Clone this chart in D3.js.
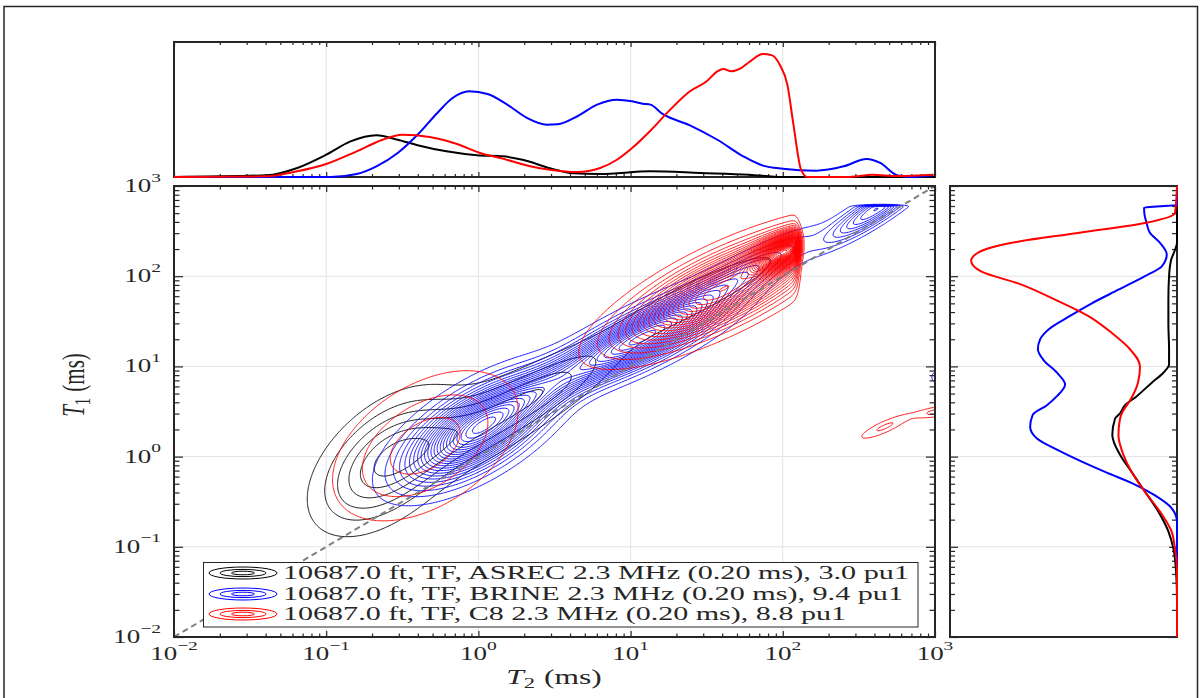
<!DOCTYPE html>
<html>
<head>
<meta charset="utf-8">
<script src="https://cdn.jsdelivr.net/npm/d3@7"></script>
<style>
  body { margin: 0; background: #fff; }
  svg text { font-family: "Liberation Serif", "Times New Roman", serif; fill: #262626; }
</style>
</head>
<body>
<svg id="fig" width="1204" height="698"></svg>
<script>
const seriesNames = [
  "10687.0 ft, TF, ASREC 2.3 MHz (0.20 ms), 3.0 pu1",
  "10687.0 ft, TF, BRINE 2.3 MHz (0.20 ms), 9.4 pu1",
  "10687.0 ft, TF, C8 2.3 MHz (0.20 ms), 8.8 pu1"
];
const seriesColors = ["#000000", "#0000ff", "#ff0000"];
const tickExps = [-2, -1, 0, 1, 2, 3];

// T2 projection (top panel): [log10 T2, amplitude]
const topAsrec = [[-2.0,0],[-1.39,0.013],[-1.19,0.067],[-1.0,0.165],[-0.84,0.264],[-0.67,0.309],[-0.53,0.276],[-0.4,0.235],[-0.21,0.19],[-0.01,0.161],[0.16,0.153],[0.29,0.128],[0.47,0.065],[0.52,0.05],[0.6,0.03],[0.8,0.022],[1.13,0.042],[1.46,0.03],[1.78,0.017],[2.0,0],[3.0,0]];
const topBrine = [[-2.0,0],[-0.97,0],[-0.8,0.022],[-0.67,0.079],[-0.53,0.178],[-0.4,0.313],[-0.27,0.474],[-0.17,0.585],[-0.06,0.635],[0.06,0.615],[0.19,0.536],[0.32,0.437],[0.45,0.387],[0.52,0.39],[0.65,0.45],[0.78,0.536],[0.91,0.573],[1.01,0.561],[1.08,0.543],[1.13,0.536],[1.21,0.467],[1.39,0.383],[1.57,0.276],[1.74,0.153],[1.87,0.084],[2.0,0.061],[2.22,0.047],[2.4,0.079],[2.55,0.133],[2.64,0.104],[2.75,0.013],[2.84,0],[2.99,0.013]];
const topC8 = [[-2.0,0],[-1.39,0.005],[-1.19,0.042],[-1.0,0.096],[-0.8,0.19],[-0.63,0.276],[-0.5,0.313],[-0.32,0.296],[-0.14,0.244],[0.01,0.178],[0.16,0.136],[0.34,0.08],[0.47,0.054],[0.65,0.037],[0.8,0.067],[0.91,0.128],[1.01,0.215],[1.13,0.343],[1.26,0.499],[1.39,0.635],[1.5,0.709],[1.57,0.783],[1.61,0.8],[1.66,0.783],[1.72,0.802],[1.78,0.852],[1.87,0.911],[1.93,0.901],[1.98,0.832],[2.03,0.684],[2.07,0.388],[2.12,0.054],[2.16,0],[2.44,0],[2.59,0.017],[2.75,0.007],[2.99,0.017]];

// T1 projection (right panel): [log10 T1, amplitude]
const sideAsrec = [[-2.0,0],[-1.59,0],[-1.28,0.004],[-1.02,0.016],[-0.83,0.038],[-0.61,0.082],[-0.39,0.141],[-0.17,0.2],[0.02,0.251],[0.24,0.285],[0.42,0.273],[0.48,0.251],[0.57,0.229],[0.67,0.177],[0.82,0.111],[0.93,0.06],[1.02,0.035],[1.19,0.035],[1.48,0.038],[1.74,0.038],[2.0,0.035],[2.18,0.026],[2.29,0.009],[2.37,0],[3.0,0]];
const sideBrine = [[-2.0,0],[-0.72,0],[-0.57,0.024],[-0.43,0.097],[-0.31,0.185],[-0.17,0.317],[0.05,0.507],[0.2,0.617],[0.33,0.647],[0.46,0.636],[0.57,0.573],[0.67,0.529],[0.8,0.493],[0.93,0.529],[1.07,0.588],[1.19,0.613],[1.3,0.603],[1.41,0.566],[1.56,0.471],[1.7,0.375],[1.85,0.258],[2.0,0.141],[2.11,0.067],[2.24,0.045],[2.37,0.075],[2.48,0.119],[2.59,0.134],[2.7,0.144],[2.76,0.145],[2.79,0],[3.0,0]];
const sideC8 = [[-2.0,0],[-1.28,0],[-1.02,0.009],[-0.83,0.024],[-0.61,0.075],[-0.39,0.141],[-0.17,0.2],[0.02,0.236],[0.24,0.258],[0.42,0.251],[0.48,0.243],[0.63,0.205],[0.82,0.172],[1.0,0.163],[1.19,0.207],[1.37,0.287],[1.56,0.392],[1.74,0.537],[1.92,0.7],[2.05,0.861],[2.17,0.907],[2.26,0.877],[2.37,0.727],[2.48,0.436],[2.59,0.141],[2.7,0.009],[3.0,0]];

// T1-T2 map peaks: [log10 T2, log10 T1, sd T2, sd T1, corr, height, T2 cutoff, T1 cutoff]
const peaksAsrec = [
  [-0.60, -0.05, 0.28, 0.45, 0.50, 5.6, null, null],
  [-0.05, 0.30, 0.35, 0.35, 0.70, 3.4, null, null],
  [0.45, 0.75, 0.28, 0.28, 0.75, 2.5, null, null],
  [1.38, 1.73, 0.60, 0.53, 0.92, 1.5, null, null]
];
const peaksBrine = [
  [0.00, 0.30, 0.28, 0.34, 0.66, 22, null, null],
  [0.50, 0.82, 0.30, 0.30, 0.85, 7, null, null],
  [1.10, 1.33, 0.32, 0.30, 0.80, 20, null, null],
  [1.70, 1.98, 0.30, 0.30, 0.90, 6, null, null],
  [2.62, 2.75, 0.21, 0.24, 0.90, 9, null, 2.785],
  [3.02, 0.88, 0.03, 0.05, 0.0, 2.5, null, null]
];
const peaksC8 = [
  [-0.35, 0.12, 0.38, 0.52, 0.45, 3.6, null, null],
  [1.60, 1.85, 0.38, 0.36, 0.77, 20, 2.1, null],
  [2.02, 2.28, 0.13, 0.13, 0.60, 35, 2.1, null],
  [2.67, 0.33, 0.12, 0.10, 0.85, 2.2, null, null],
  [3.02, 0.50, 0.10, 0.05, 0.60, 2.5, null, null]
];
const contourLevels = d3.range(1, 70);

const svg = d3.select("#fig");
const ink = "#262626";
const stretch = 1.5;

const x = d3.scaleLog().domain([1e-2, 1e3]).range([174, 935]);
const y = d3.scaleLog().domain([1e-2, 1e3]).range([637, 186]);
const topY = d3.scaleLinear().domain([0, 1]).range([177, 42]);
const sideX = d3.scaleLinear().domain([0, 1]).range([1177, 950]);

const majorVals = tickExps.map(e => 10 ** e);
const minorVals = d3.range(-2, 3).flatMap(e => d3.range(2, 10).map(m => m * 10 ** e));
const gridVals = majorVals.slice(1, -1);

// outer frame
svg.append("rect").attr("x", 4).attr("y", 6.5).attr("width", 1193.5).attr("height", 720)
  .attr("fill", "none").attr("stroke", ink).attr("stroke-width", 1.5);

// grid lines
const grid = svg.append("g").attr("stroke", "#e3e3e3").attr("stroke-width", 1);
gridVals.forEach(v => {
  grid.append("line").attr("x1", x(v)).attr("x2", x(v)).attr("y1", 186).attr("y2", 637);
  grid.append("line").attr("x1", 174).attr("x2", 935).attr("y1", y(v)).attr("y2", y(v));
  grid.append("line").attr("x1", x(v)).attr("x2", x(v)).attr("y1", 42).attr("y2", 177);
  grid.append("line").attr("x1", 950).attr("x2", 1177).attr("y1", y(v)).attr("y2", y(v));
});

// contour maps
svg.append("clipPath").attr("id", "mainClip")
  .append("rect").attr("x", 174).attr("y", 186).attr("width", 761).attr("height", 451);

const step = 0.01, uMin = -2.2, uMax = 3.3, vMin = -2.2, vMax = 3.2;
const nx = Math.round((uMax - uMin) / step) + 1;
const ny = Math.round((vMax - vMin) / step) + 1;

function field(peaks) {
  const vals = new Float64Array(nx * ny);
  for (let j = 0; j < ny; j++) {
    const v = vMin + j * step;
    for (let i = 0; i < nx; i++) {
      const u = uMin + i * step;
      let s = 0;
      for (const [u0, v0, su, sv, r, h, cu, cv] of peaks) {
        const a = (u - u0) / su, b = (v - v0) / sv;
        const q = (a * a - 2 * r * a * b + b * b) / (1 - r * r);
        if (q > 60) continue;
        let g = h * Math.exp(-q / 2);
        if (cu != null) g /= 1 + Math.exp((u - cu) / 0.012);
        if (cv != null) g /= 1 + Math.exp((v - cv) / 0.005);
        s += g;
      }
      vals[j * nx + i] = s;
    }
  }
  return vals;
}

const toPlot = d3.geoTransform({
  point(gx, gy) {
    this.stream.point(x(10 ** (uMin + (gx - 0.5) * step)), y(10 ** (vMin + (gy - 0.5) * step)));
  }
});
const contourPath = d3.geoPath(toPlot);
const contourGen = d3.contours().size([nx, ny]).thresholds(contourLevels);

const mapG = svg.append("g").attr("clip-path", "url(#mainClip)");
[peaksAsrec, peaksBrine, peaksC8].forEach((peaks, k) => {
  const sets = contourGen(field(peaks)).filter(c => c.coordinates.length > 0);
  mapG.append("g")
    .attr("fill", "none")
    .attr("stroke", seriesColors[k])
    .attr("stroke-width", 0.9)
    .selectAll("path")
    .data(sets)
    .join("path")
    .attr("d", contourPath);
});

// T1 = T2 line
mapG.append("line")
  .attr("x1", x(1e-2)).attr("y1", y(1e-2)).attr("x2", x(1e3)).attr("y2", y(1e3))
  .attr("stroke", "#808080").attr("stroke-width", 2).attr("stroke-dasharray", "6,4");

// ticks
function ticks(axisFn, scale, transform, lenMajor, lenMinor) {
  [[majorVals, lenMajor], [minorVals, lenMinor]].forEach(([vals, len]) => {
    svg.append("g")
      .attr("transform", transform)
      .call(axisFn(scale).tickValues(vals).tickSize(-len).tickFormat(""))
      .call(g => g.select(".domain").remove())
      .selectAll("line").attr("stroke", ink).attr("stroke-width", 1.2);
  });
}
ticks(d3.axisBottom, x, "translate(0,637)", 6, 3.5);
ticks(d3.axisTop, x, "translate(0,186)", 6, 3.5);
ticks(d3.axisLeft, y, "translate(174,0)", 9, 5.5);
ticks(d3.axisRight, y, "translate(935,0)", 9, 5.5);
ticks(d3.axisBottom, x, "translate(0,177)", 5, 3);
ticks(d3.axisTop, x, "translate(0,42)", 5, 3);
ticks(d3.axisLeft, y, "translate(950,0)", 8, 5);
ticks(d3.axisRight, y, "translate(1177,0)", 8, 5);

// boxes
[[174, 186, 761, 451], [174, 42, 761, 135], [950, 186, 227, 451]].forEach(([bx, by, bw, bh]) => {
  svg.append("rect").attr("x", bx).attr("y", by).attr("width", bw).attr("height", bh)
    .attr("fill", "none").attr("stroke", ink).attr("stroke-width", 2);
});

// projections
const topLine = d3.line().x(d => x(10 ** d[0])).y(d => topY(d[1])).curve(d3.curveMonotoneX);
const sideLine = d3.line().x(d => sideX(d[1])).y(d => y(10 ** d[0])).curve(d3.curveMonotoneY);
[topAsrec, topBrine, topC8].forEach((d, k) => {
  svg.append("path").datum(d).attr("d", topLine)
    .attr("fill", "none").attr("stroke", seriesColors[k]).attr("stroke-width", 2);
});
[sideAsrec, sideBrine, sideC8].forEach((d, k) => {
  svg.append("path").datum(d).attr("d", sideLine)
    .attr("fill", "none").attr("stroke", seriesColors[k]).attr("stroke-width", 2);
});

// tick labels
function powerLabel(px, py, e, anchor) {
  const t = svg.append("text")
    .attr("transform", `translate(${px},${py}) scale(${stretch},1)`)
    .attr("text-anchor", anchor)
    .style("font-size", "18px");
  t.append("tspan").text("10");
  t.append("tspan").attr("dy", -10.5).style("font-size", "13px")
    .text(e < 0 ? "\u2212" + (-e) : String(e));
}
tickExps.forEach(e => powerLabel(x(10 ** e), 660, e, "middle"));
tickExps.forEach(e => powerLabel(161, y(10 ** e) + 6, e, "end"));

// axis labels
const xl = svg.append("text")
  .attr("transform", `translate(554,684) scale(${stretch},1)`)
  .attr("text-anchor", "middle").style("font-size", "21px");
xl.append("tspan").style("font-style", "italic").text("T");
xl.append("tspan").attr("dy", 4).style("font-size", "15px").text("2");
xl.append("tspan").attr("dy", -4).attr("dx", 6).text("(ms)");

const yl = svg.append("text")
  .attr("transform", `translate(84,385) scale(${stretch},1) rotate(-90)`)
  .attr("text-anchor", "middle").style("font-size", "21px");
yl.append("tspan").style("font-style", "italic").text("T");
yl.append("tspan").attr("dy", 4).style("font-size", "15px").text("1");
yl.append("tspan").attr("dy", -4).attr("dx", 6).text("(ms)");

// legend
const legend = svg.append("g");
legend.append("rect").attr("x", 203.5).attr("y", 562.5).attr("width", 714.5).attr("height", 64.5)
  .attr("fill", "#fff").attr("stroke", ink).attr("stroke-width", 1);
const rowY = [573, 594, 614];
const rowLen = [626, 620, 563];
seriesNames.forEach((name, k) => {
  [[34, 6], [23, 3.6], [11.5, 1.8]].forEach(([rx, ry]) => {
    legend.append("ellipse").attr("cx", 243).attr("cy", rowY[k]).attr("rx", rx).attr("ry", ry)
      .attr("fill", "none").attr("stroke", seriesColors[k]).attr("stroke-width", 1);
  });
  legend.append("text").attr("x", 283).attr("y", rowY[k] + 6)
    .attr("textLength", rowLen[k]).attr("lengthAdjust", "spacingAndGlyphs")
    .style("font-size", "18px").text(name);
});
</script>
</body>
</html>
